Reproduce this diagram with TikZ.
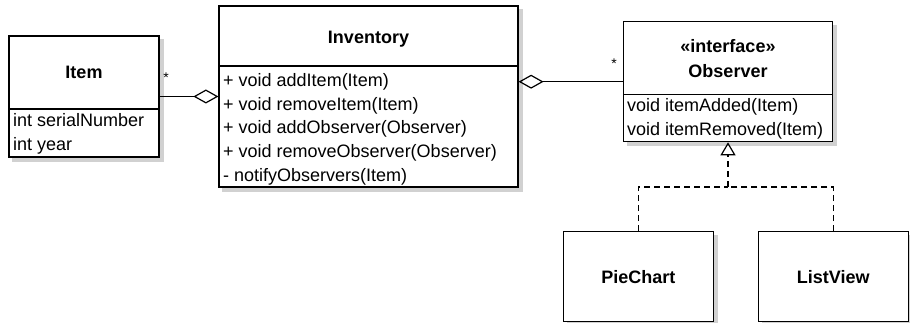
\documentclass[tikz,border=0pt]{standalone}
\usepackage{fontspec}
\setmainfont{Liberation Sans}
\usetikzlibrary{arrows.meta,backgrounds}
\newcommand{\umlfont}{\fontsize{18}{21}\selectfont}
\tikzset{
  umlbox/.style={draw, line width=1.2pt, fill=white, inner sep=0pt},
  shadowbox/.style={fill=black!18, draw=none},
  ttl/.style={font=\umlfont\bfseries, anchor=base, inner sep=0pt},
  mem/.style={font=\umlfont, anchor=base west, inner sep=0pt},
  mult/.style={font=\fontsize{14}{15}\selectfont, inner sep=0pt},
  divider/.style={line width=1.2pt},
  agg/.style={line width=1.2pt, -{Diamond[open, length=25pt, width=14pt, line width=1.2pt]}},
  realize/.style={line width=1.2pt, dash pattern=on 6pt off 4pt},
}
\begin{document}
\begin{tikzpicture}[x=1pt, y=-1pt, font=\umlfont]
\useasboundingbox (0,0) rectangle (910,323);

% Item
\node[umlbox, minimum width=150pt, minimum height=121pt] (item) at (84,96.5) {};
\node[ttl] (itemT) at (84,79) {Item};
\draw[divider] (item.west |- 0,109) -- (item.east |- 0,109);
\node[mem] (itemA1) at (13,127) {int serialNumber};
\node[mem] (itemA2) at (13,151) {int year};

% Inventory
\node[umlbox, minimum width=299pt, minimum height=181pt] (inv) at (368.5,96.5) {};
\node[ttl] (invT) at (368.5,44) {Inventory};
\draw[divider] (inv.west |- 0,66) -- (inv.east |- 0,66);
\node[mem] (invM1) at (223,86.5) {+ void addItem(Item)};
\node[mem] (invM2) at (223,110.5) {+ void removeItem(Item)};
\node[mem] (invM3) at (223,134) {+ void addObserver(Observer)};
\node[mem] (invM4) at (223,158) {+ void removeObserver(Observer)};
\node[mem] (invM5) at (223,181.5) {- notifyObservers(Item)};

% Observer
\node[umlbox, minimum width=209pt, minimum height=120pt] (obs) at (728,81.7) {};
\node[ttl] (obsS) at (728,52.5) {«interface»};
\node[ttl] (obsT) at (728,77.3) {Observer};
\draw[divider] (obs.west |- 0,94.3) -- (obs.east |- 0,94.3);
\node[mem] (obsM1) at (627,111.7) {void itemAdded(Item)};
\node[mem] (obsM2) at (627,135.7) {void itemRemoved(Item)};

% PieChart and ListView
\node[umlbox, minimum width=150pt, minimum height=90pt, font=\umlfont\bfseries] (pie) at (638.3,276.7) {PieChart};
\node[umlbox, minimum width=150pt, minimum height=90pt, font=\umlfont\bfseries] (list) at (833.3,276.7) {ListView};

% Shadows
\begin{pgfonlayer}{background}
\foreach \b in {item,inv,obs,pie,list}
  \fill[shadowbox] ([shift={(4,4)}]\b.south west) rectangle ([shift={(4,4)}]\b.north east);
\end{pgfonlayer}

% Aggregations
\draw[agg] (item.east) -- (inv.west |- item.east);
\node[mult] (m1) at (166,78) {*};
\draw[agg] (obs.west) -- (inv.east |- obs.west);
\node[mult] (m2) at (614,64) {*};

% Realization
\coordinate (j) at (728,187);
\draw[realize] (pie.north) |- (j);
\draw[realize] (list.north) |- (j);
\draw[realize, -{Triangle[open, length=13pt, width=15pt, line width=1.2pt]}] (j) -- (obs.south);
\end{tikzpicture}
\end{document}
